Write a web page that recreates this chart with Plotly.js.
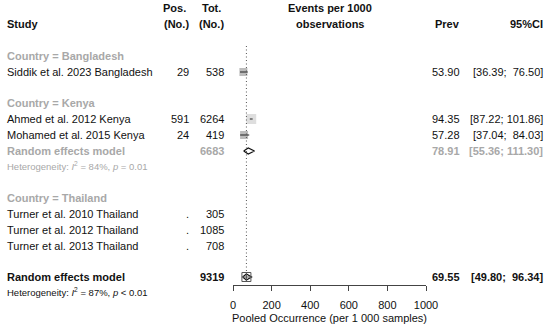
<!DOCTYPE html>
<html><head><meta charset="utf-8">
<script src="https://cdn.plot.ly/plotly-3.0.1.min.js"></script>
<style>body{margin:0;background:#fff}#c{width:550px;height:330px}</style>
</head><body><div id="c"></div>
<script>
// ---- data ----
const studies = ["Siddik et al. 2023 Bangladesh","Ahmed et al. 2012 Kenya","Mohamed et al. 2015 Kenya","Turner et al. 2010 Thailand","Turner et al. 2012 Thailand","Turner et al. 2013 Thailand"];
const pos = [29, 591, 24, null, null, null];
const tot = [538, 6264, 419, 305, 1085, 708];
const prev = [53.90, 94.35, 57.28, null, null, null];
const ciLo = [36.39, 87.22, 37.04, null, null, null];
const ciHi = [76.50, 101.86, 84.03, null, null, null];
const weightSize = [8, 10, 8, 0, 0, 0];
const groups = ["Country = Bangladesh","Country = Kenya","Country = Thailand"];
const kenyaRE = {tot: 6683, prev: 78.91, lo: 55.36, hi: 111.30, i2: 84, p: "= 0.01"};
const overallRE = {tot: 9319, prev: 69.55, lo: 49.80, hi: 96.34, i2: 87, p: "< 0.01"};
const tickVals = [0, 200, 400, 600, 800, 1000];

// ---- layout rows (pixel rows) ----
const W = 550, H = 330;
const studyRow = [72, 119, 135, 214, 230, 246];
const groupRow = [56, 103, 198];
const kenyaRow = 151, kenyaHetRow = 166, overallRow = 277, overallHetRow = 292;
const colStudy = 5, colPos = 191, colTot = 226, colPrev = 462, colCI = 545, colEv = 330;
const BLACK = "#111", GRAY = "#a8a8a8";
const FONT = "Liberation Sans, Arial, sans-serif";

const fmt = v => v.toFixed(2);
const nb = s => s.replace(/ /g, "\u00a0");
const ciTxt = (l, h) => { let a = fmt(l), b = fmt(h); let s = "[" + a + ";"; s += " ".repeat(Math.max(1, 7 - b.length)) + b + "]"; return nb(s); };

const ann = [];
function T(text, px, py, opts) {
  opts = opts || {};
  ann.push({text: text, x: px / W, y: (H - py) / H, xref: "paper", yref: "paper",
    xanchor: opts.anchor || "left", yanchor: "middle", showarrow: false,
    font: {family: FONT, size: opts.size || 11, color: opts.color || BLACK}, align: opts.align || "left"});
}
// headers
T("<b>Study</b>", colStudy, 24);
T("<b>Pos.</b>", colPos - 3, 8, {anchor: "right"});
T("<b>(No.)</b>", colPos, 24, {anchor: "right"});
T("<b>Tot.</b>", colTot - 3, 8, {anchor: "right"});
T("<b>(No.)</b>", colTot, 24, {anchor: "right"});
T("<b>Events per 1000</b>", colEv, 8, {anchor: "center"});
T("<b>observations</b>", colEv, 24, {anchor: "center"});
T("<b>Prev</b>", colPrev, 24, {anchor: "right"});
T("<b>95%CI</b>", colCI, 24, {anchor: "right"});
groups.forEach((g, i) => T("<b>" + g + "</b>", colStudy, groupRow[i], {color: GRAY}));
studies.forEach((s, i) => {
  T(s, colStudy, studyRow[i]);
  T(pos[i] === null ? "." : String(pos[i]), colPos, studyRow[i], {anchor: "right"});
  T(String(tot[i]), colTot, studyRow[i], {anchor: "right"});
  if (prev[i] !== null) {
    T(fmt(prev[i]), colPrev, studyRow[i], {anchor: "right"});
    T(ciTxt(ciLo[i], ciHi[i]), colCI, studyRow[i], {anchor: "right"});
  }
});
// kenya subgroup
T("<b>Random effects model</b>", colStudy, kenyaRow, {color: GRAY});
T("<b>" + kenyaRE.tot + "</b>", colTot, kenyaRow, {anchor: "right", color: GRAY});
T("<b>" + fmt(kenyaRE.prev) + "</b>", colPrev, kenyaRow, {anchor: "right", color: GRAY});
T("<b>" + ciTxt(kenyaRE.lo, kenyaRE.hi) + "</b>", colCI, kenyaRow, {anchor: "right", color: GRAY});
T("Heterogeneity: <i>I</i><sup>2</sup> = " + kenyaRE.i2 + "%, <i>p</i> " + kenyaRE.p, colStudy, kenyaHetRow, {size: 9.5, color: GRAY});
// overall
T("<b>Random effects model</b>", colStudy, overallRow);
T("<b>" + overallRE.tot + "</b>", colTot, overallRow, {anchor: "right"});
T("<b>" + fmt(overallRE.prev) + "</b>", colPrev, overallRow, {anchor: "right"});
T("<b>" + ciTxt(overallRE.lo, overallRE.hi) + "</b>", colCI, overallRow, {anchor: "right"});
T("Heterogeneity: <i>I</i><sup>2</sup> = " + overallRE.i2 + "%, <i>p</i> " + overallRE.p, colStudy, overallHetRow, {size: 9.5});

// ---- traces ----
const idx = prev.map((v, i) => v !== null ? i : -1).filter(i => i >= 0);
const sq = {
  type: "scatter", mode: "markers", x: idx.map(i => prev[i]), y: idx.map(i => studyRow[i]),
  marker: {symbol: "square", size: idx.map(i => weightSize[i]), color: ["#a0a0a0", "#d0d0d0", "#a0a0a0"],
    line: {width: 0}}, hoverinfo: "skip", cliponaxis: false
};
const cx = [], cy = [];
idx.forEach(i => { cx.push(ciLo[i], ciHi[i], null); cy.push(studyRow[i], studyRow[i], null); });
const ciLine = {type: "scatter", mode: "lines", x: cx, y: cy, line: {color: "#222", width: 1}, hoverinfo: "skip", cliponaxis: false};
function diamond(m, row, h) {
  return {type: "scatter", mode: "lines", fill: "toself", fillcolor: "#fff",
    x: [m.lo, m.prev, m.hi, m.prev, m.lo], y: [row, row - h, row, row + h, row],
    line: {color: "#111", width: 1.2}, hoverinfo: "skip", cliponaxis: false};
}
const overallSq = {type: "scatter", mode: "markers", x: [overallRE.prev], y: [overallRow],
  marker: {symbol: "square-cross-open", size: 9, color: "#555", line: {width: 1, color: "#555"}}, hoverinfo: "skip", cliponaxis: false};

const layout = {
  width: W, height: H, margin: {l: 0, r: 0, t: 0, b: 0}, showlegend: false,
  paper_bgcolor: "#fff", plot_bgcolor: "rgba(0,0,0,0)",
  xaxis: {domain: [233 / W, 426 / W], range: [0, 1000], tickvals: tickVals, ticks: "outside", ticklen: 5,
    tickcolor: "#444", showline: true, linecolor: "#444", linewidth: 1, showgrid: false, zeroline: false,
    tickfont: {family: FONT, size: 11, color: BLACK}, ticklabelstandoff: 5,
    title: {text: "Pooled Occurrence (per 1\u00a0000 samples)", font: {family: FONT, size: 11, color: BLACK}, standoff: 4},
    fixedrange: true},
  yaxis: {domain: [(H - 285) / H, 1], range: [285, 0], visible: false, fixedrange: true},
  shapes: [{type: "line", xref: "x", yref: "y", x0: overallRE.prev, x1: overallRE.prev, y0: 46, y1: 283,
    line: {color: "#555", width: 1, dash: "1px,2.5px"}}],
  annotations: ann
};
Plotly.newPlot("c", [sq, ciLine, diamond(kenyaRE, kenyaRow, 3), diamond(overallRE, overallRow, 3), overallSq], layout, {staticPlot: true});
</script></body></html>
